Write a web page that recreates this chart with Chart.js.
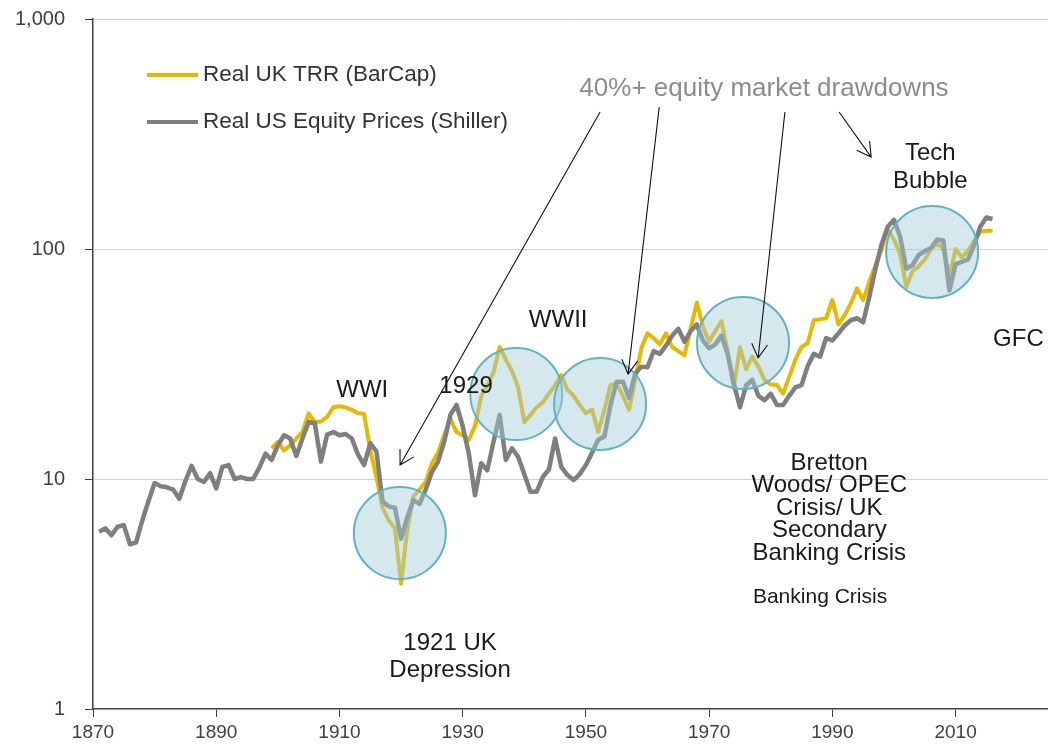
<!DOCTYPE html>
<html>
<head>
<meta charset="utf-8">
<style>
    body { margin: 0; background: #fff; }
    #wrap { width: 1048px; height: 748px; }
</style>
<script src="https://cdn.jsdelivr.net/npm/chart.js@4.4.1/dist/chart.umd.min.js"></script>
</head>
<body>
<div id="wrap"><canvas id="lineChart" width="1048" height="748"></canvas></div>
<script>
    // data (index, log scale)
    var usStart = 1871;
    var usValues = [
        5.9, 6.1, 5.7, 6.2, 6.3, 5.2, 5.3, 6.6, 8.0, 9.6,
        9.3, 9.2, 9.0, 8.2, 9.8, 11.4, 10.0, 9.7, 10.6, 9.1,
        11.3, 11.5, 10.0, 10.2, 10.0, 10.0, 11.2, 12.9, 12.1, 14.0,
        15.5, 15.0, 12.6, 15.0, 17.7, 17.5, 11.9, 15.6, 16.0, 15.5,
        15.7, 15.0, 12.8, 11.5, 14.3, 13.2, 8.0, 7.6, 7.5, 5.5,
        6.8, 8.1, 7.8, 9.0, 10.7, 11.9, 14.5, 19.0, 21.0, 17.0,
        12.9, 8.5, 11.7, 10.9, 14.5, 19.0, 12.1, 13.6, 12.5, 10.5,
        8.8, 8.8, 10.2, 11.0, 15.0, 11.3, 10.4, 9.9, 10.5, 11.5,
        13.0, 14.8, 15.3, 21.0, 26.5, 26.5, 22.5, 28.7, 30.8, 30.6,
        36.0, 35.0, 38.0, 42.0, 45.0, 39.5, 44.0, 47.0, 40.0, 37.0,
        38.5, 42.0, 35.0, 26.0, 20.5, 25.5, 27.0, 23.0, 22.0, 23.5,
        21.0, 21.0, 23.0, 25.0, 25.6, 31.0, 35.0, 34.0, 41.0, 40.0,
        43.0, 46.5, 49.0, 50.0, 48.0, 62.0, 82.0, 105.0, 125.0, 134.0,
        113.0, 82.0, 85.0, 94.0, 98.0, 101.0, 110.0, 109.0, 66.0, 86.0,
        88.0, 90.0, 104.0, 125.0, 137.0, 135.0
    ];
    var ukStart = 1899;
    var ukValues = [
        13.6, 14.5, 13.3, 14.0, 15.0, 16.0, 19.3, 17.7, 17.8, 18.6,
        20.5, 20.7, 20.5, 20.0, 19.3, 19.2, 13.3, 10.2, 7.5, 6.6,
        6.1, 3.5, 6.0, 8.4, 9.0, 9.7, 11.7, 13.0, 15.5, 18.3,
        16.0, 15.5, 14.8, 17.0, 22.9, 25.5, 29.0, 37.5, 33.0, 29.5,
        25.0, 17.7, 19.0, 20.5, 21.5, 23.5, 25.5, 28.3, 24.4, 23.0,
        21.0, 19.3, 20.0, 16.0, 20.0, 25.6, 26.0, 23.0, 20.0, 27.0,
        37.0, 43.0, 41.0, 38.5, 43.0, 37.5, 36.0, 34.5, 45.0, 58.5,
        46.0, 39.5, 44.0, 48.5, 36.0, 25.0, 37.5, 30.0, 34.0, 30.8,
        27.0, 25.8, 25.6, 23.5, 27.8, 33.0, 37.5, 39.0, 49.0, 49.5,
        50.0, 60.0, 47.0, 51.6, 58.0, 67.5, 60.0, 72.0, 85.0, 100.0,
        121.0, 110.0, 95.0, 68.5, 80.0, 84.0, 90.0, 100.0, 106.0, 100.0,
        76.0, 100.0, 92.0, 98.0, 108.0, 119.0, 120.0, 120.0
    ];
    var yTicks = [1, 10, 100, 1000];
    var xTicks = [1870, 1890, 1910, 1930, 1950, 1970, 1990, 2010];

    // annotations, anchored in data units
    var drawdowns = [[1919.8, 5.82], [1938.7, 23.4], [1952.3, 21.2], [1975.5, 39.0], [2006.2, 97]];
    var arrows = [
        [1952.3, 394, 1919.84, 11.5],
        [1961.9, 414, 1956.85, 28.6],
        [1982.3, 394, 1977.95, 33.6],
        [1991.1, 394, 1996.3, 251]
    ];
    var labels = [
        ['WWI', 1913.7, 24.4],
        ['1929', 1930.55, 25.4],
        ['WWII', 1945.5, 49.1],
        ['1921 UK', 1927.95, 1.936],
        ['Depression', 1927.95, 1.477],
        ['Tech', 2005.9, 261],
        ['Bubble', 2005.9, 197.6],
        ['GFC', 2020.2, 40.6]
    ];
    var bretton = ['Bretton', 'Woods/ OPEC', 'Crisis/ UK', 'Secondary', 'Banking Crisis'];

    function toPoints(start, vals) {
        var out = [];
        for (var i = 0; i < vals.length; i++) {
            out.push({x: start + i, y: vals[i]});
        }
        return out;
    }

    var notes = {
        id: 'notes',
        afterDatasetsDraw: function (chart) {
            var ctx = chart.ctx, sx = chart.scales.x, sy = chart.scales.y;
            var px = function (yr, v) { return [sx.getPixelForValue(yr), sy.getPixelForValue(v)]; };
            ctx.save();

            // drawdown circles
            drawdowns.forEach(function (d) {
                var p = px(d[0], d[1]);
                ctx.beginPath();
                ctx.arc(p[0], p[1], 46, 0, Math.PI * 2);
                ctx.fillStyle = 'rgba(160,205,216,0.45)';
                ctx.fill();
                ctx.lineWidth = 2;
                ctx.strokeStyle = '#62b3c0';
                ctx.stroke();
            });

            // arrows
            ctx.strokeStyle = '#111';
            ctx.lineWidth = 1.1;
            arrows.forEach(function (a) {
                var t = px(a[0], a[1]), h = px(a[2], a[3]);
                var ang = Math.atan2(t[1] - h[1], t[0] - h[0]);
                ctx.beginPath();
                ctx.moveTo(t[0], t[1]);
                ctx.lineTo(h[0], h[1]);
                ctx.moveTo(h[0] + 16 * Math.cos(ang - 0.52), h[1] + 16 * Math.sin(ang - 0.52));
                ctx.lineTo(h[0], h[1]);
                ctx.lineTo(h[0] + 16 * Math.cos(ang + 0.52), h[1] + 16 * Math.sin(ang + 0.52));
                ctx.stroke();
            });

            ctx.textAlign = 'center';
            ctx.textBaseline = 'middle';

            ctx.fillStyle = '#8c8c8c';
            ctx.font = '26px "Liberation Sans", Arial, sans-serif';
            var hp = px(1978.9, 496);
            ctx.fillText('40%+ equity market drawdowns', hp[0], hp[1]);

            ctx.fillStyle = '#1a1a1a';
            ctx.font = '24px "Liberation Sans", Arial, sans-serif';
            labels.forEach(function (l) {
                var p = px(l[1], l[2]);
                ctx.fillText(l[0], p[0], p[1]);
            });

            var bp = px(1989.5, 11.74);
            bretton.forEach(function (s, i) {
                ctx.fillText(s, bp[0], bp[1] + i * 22.5);
            });

            ctx.font = '21px "Liberation Sans", Arial, sans-serif';
            var bk = px(1988.0, 3.07);
            ctx.fillText('Banking Crisis', bk[0], bk[1]);

            // legend
            var lg = [['Real UK TRR (BarCap)', '#e8b700', 75], ['Real US Equity Prices (Shiller)', '#7f7f7f', 122]];
            ctx.textAlign = 'left';
            ctx.font = '22.5px "Liberation Sans", Arial, sans-serif';
            lg.forEach(function (g) {
                ctx.beginPath();
                ctx.moveTo(147, g[2]);
                ctx.lineTo(198, g[2]);
                ctx.lineWidth = 4;
                ctx.strokeStyle = g[1];
                ctx.stroke();
                ctx.fillStyle = '#333';
                ctx.fillText(g[0], 203, g[2]);
            });

            ctx.restore();
        }
    };

    Chart.defaults.font.family = '"Liberation Sans", Arial, sans-serif';
    Chart.defaults.color = '#404040';

    var ctx = document.getElementById('lineChart').getContext('2d');
    new Chart(ctx, {
        type: 'line',
        data: {
            datasets: [
                {
                    label: 'Real US Equity Prices (Shiller)',
                    data: toPoints(usStart, usValues),
                    borderColor: '#7f7f7f',
                    borderWidth: 4.5,
                    pointRadius: 0,
                    borderJoinStyle: 'round',
                    order: 0
                },
                {
                    label: 'Real UK TRR (BarCap)',
                    data: toPoints(ukStart, ukValues),
                    borderColor: '#e8b700',
                    borderWidth: 4,
                    pointRadius: 0,
                    borderJoinStyle: 'round',
                    order: 1
                }
            ]
        },
        options: {
            responsive: false,
            animation: false,
            layout: {padding: {top: 19, right: 0, left: 0, bottom: 0}},
            plugins: {legend: {display: false}, tooltip: {enabled: false}},
            scales: {
                x: {
                    type: 'linear',
                    min: 1870,
                    max: 2025,
                    afterBuildTicks: function (s) { s.ticks = xTicks.map(function (v) { return {value: v}; }); },
                    afterFit: function (s) { s.height = 39; s.paddingLeft = 0; s.paddingRight = 0; },
                    ticks: {
                        callback: function (v) { return String(v); },
                        font: {family: '"Liberation Sans Narrow", "Liberation Sans", Arial', size: 19},
                        color: '#404040',
                        padding: 4,
                        maxRotation: 0
                    },
                    grid: {drawOnChartArea: false, tickLength: 8, tickColor: '#404040'},
                    border: {color: '#404040', width: 1.5}
                },
                y: {
                    type: 'logarithmic',
                    min: 1,
                    max: 1000,
                    afterBuildTicks: function (s) { s.ticks = yTicks.map(function (v) { return {value: v}; }); },
                    afterFit: function (s) { s.width = 93; s.paddingTop = 0; s.paddingBottom = 0; },
                    ticks: {
                        callback: function (v) { return v.toLocaleString('en-US'); },
                        font: {size: 20},
                        color: '#404040',
                        padding: 20
                    },
                    grid: {
                        color: function (c) { return c.tick && c.tick.value === 1 ? 'rgba(0,0,0,0)' : '#d0d0d0'; },
                        tickLength: 8,
                        tickColor: '#404040'
                    },
                    border: {color: '#404040', width: 1.5}
                }
            }
        },
        plugins: [notes]
    });
</script>
</body>
</html>
